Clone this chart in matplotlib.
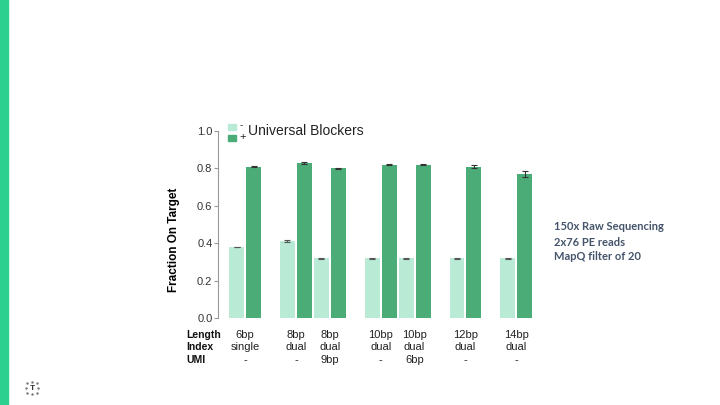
import numpy as np
import matplotlib.pyplot as plt
from matplotlib.patches import Rectangle

# data
lengths = ['6bp', '8bp', '8bp', '10bp', '10bp', '12bp', '14bp']
indexes = ['single', 'dual', 'dual', 'dual', 'dual', 'dual', 'dual']
umis = ['-', '-', '9bp', '-', '6bp', '-', '-']
group_pos = [0, 3, 5, 8, 10, 13, 16]
minus_vals = [0.38, 0.41, 0.32, 0.32, 0.32, 0.32, 0.32]
minus_err = [0.002, 0.005, 0.002, 0.003, 0.002, 0.003, 0.002]
plus_vals = [0.81, 0.83, 0.80, 0.82, 0.82, 0.81, 0.77]
plus_err = [0.002, 0.005, 0.003, 0.002, 0.003, 0.006, 0.015]
notes = ['150x Raw Sequencing', '2x76 PE reads', 'MapQ filter of 20']

light = '#b8ead6'
dark = '#4cac78'

plt.rcParams['font.family'] = ['Liberation Sans', 'DejaVu Sans']

fig = plt.figure(figsize=(7.2, 4.05), dpi=100)
fig.patches.append(Rectangle((0, 0), 8 / 720, 1, transform=fig.transFigure,
                             color='#2dd08e', zorder=0))

ax = fig.add_axes([218 / 720, 1 - 318 / 405, 322 / 720, 187 / 405])
x = np.array(group_pos, dtype=float)
w = 0.88
ax.bar(x - 0.5, minus_vals, w, color=light, yerr=minus_err,
       error_kw=dict(ecolor='#555555', elinewidth=0.8, capsize=2, capthick=0.8))
ax.bar(x + 0.5, plus_vals, w, color=dark, yerr=plus_err,
       error_kw=dict(ecolor='#333333', elinewidth=0.8, capsize=2, capthick=0.8))

ax.set_xlim(-1.6, 17.4)
ax.set_ylim(0, 1.0)
ax.set_yticks([0.0, 0.2, 0.4, 0.6, 0.8, 1.0])
ax.set_yticklabels(['0.0', '0.2', '0.4', '0.6', '0.8', '1.0'])
ax.set_xticks([])
for s in ['top', 'right', 'bottom']:
    ax.spines[s].set_visible(False)
ax.spines['left'].set_color('#999999')
ax.spines['left'].set_linewidth(0.8)
ax.tick_params(axis='y', length=3, width=0.8, color='#999999',
               labelsize=8, labelcolor='#333333', pad=1)
ax.set_ylabel('Fraction On Target', fontsize=8.5, fontweight='bold')
ax.yaxis.set_label_coords(-0.118, 0.42)

# legend
fig.patches.append(Rectangle((228 / 720, 1 - 130 / 405), 8 / 720, 6 / 405,
                             transform=fig.transFigure, color=light))
fig.patches.append(Rectangle((228 / 720, 1 - 141 / 405), 8 / 720, 6 / 405,
                             transform=fig.transFigure, color=dark))
fig.text(240 / 720, 1 - 125 / 405, '-', fontsize=7, va='center', color='#222222')
fig.text(239 / 720, 1 - 137 / 405, '+', fontsize=8, va='center', color='#222222')
fig.text(248 / 720, 1 - 131 / 405, 'Universal Blockers', fontsize=10,
         va='center', color='#222222')

# table under the bars
for label, yy in zip(['Length', 'Index', 'UMI'], [335, 347, 360]):
    fig.text(186 / 720, 1 - yy / 405, label, fontsize=7.5, fontweight='bold',
             va='center', color='#111111')
for gx, a, b, c in zip(x, lengths, indexes, umis):
    px = ax.transData.transform((gx, 0))[0] / fig.dpi / 7.2
    for txt, yy in zip([a, b, c], [335, 347, 360]):
        fig.text(px, 1 - yy / 405, txt, fontsize=8, ha='center', va='center',
                 color='#222222')

# notes on the right
for txt, yy in zip(notes, [227, 242, 256]):
    fig.text(554 / 720, 1 - yy / 405, txt, fontsize=8, fontweight='bold',
             va='center', color='#44546a', family=['Lato', 'DejaVu Sans'])

# small logo bottom-left
fig.text(32 / 720, 1 - 388 / 405, 'T', fontsize=6, ha='center', va='center',
         color='#333333', fontweight='bold')
ang = np.linspace(0, 2 * np.pi, 9)[:-1]
fig.lines.append(plt.Line2D(32 / 720 + 0.009 * np.cos(ang),
                            1 - 388 / 405 + 0.016 * np.sin(ang),
                            transform=fig.transFigure, ls='none', marker='.',
                            ms=1.5, color='#777777'))

fig.savefig('out.png', dpi=100)
